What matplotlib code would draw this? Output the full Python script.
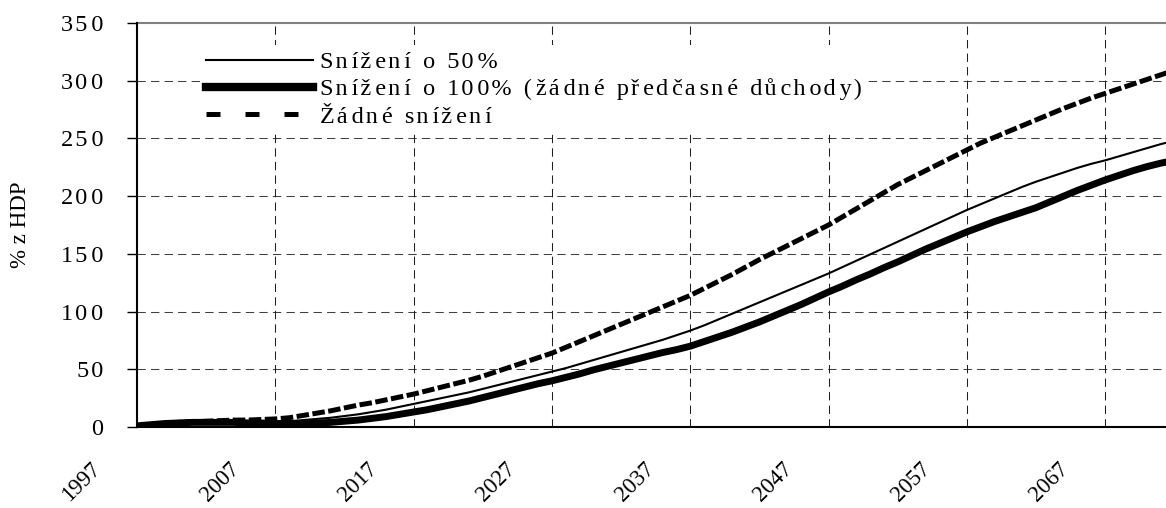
import matplotlib

matplotlib.use("Agg")
import matplotlib.pyplot as plt
from matplotlib.lines import Line2D
from matplotlib.transforms import ScaledTranslation

plt.rcParams["font.family"] = ["Liberation Serif", "DejaVu Serif"]

years = list(range(1997, 2073))

# Žádné snížení (čárkovaně)
no_cut = [
    1, 2, 3, 4, 4.5, 5, 5.5, 6, 6, 6.5,
    7, 8, 10, 12, 14, 16.5, 19, 21, 23.5, 26,
    28.5, 31.5, 34.5, 37.5, 40.5, 44, 48, 52, 56, 60,
    64, 69, 74, 79, 84, 89, 94, 99, 104, 109,
    114, 120, 126, 132, 138.5, 145, 151, 157, 163, 169,
    175, 182, 189, 196, 203, 210, 216, 222, 228, 234,
    240, 246, 251, 256, 261, 266, 271, 276, 280.5, 285,
    289, 293, 297, 301, 305, 309,
]

# Snížení o 50 %
cut_50 = [
    1, 2, 3, 3.5, 4, 4.5, 4.5, 4.5, 4.5, 4.5,
    4.5, 5, 6, 7, 8, 9.5, 11, 13, 15, 17.5,
    20, 22.5, 25, 27.5, 30, 33, 36, 39, 42, 45,
    48, 51, 54.5, 58, 61.5, 65, 68.5, 72, 75.5, 79.5,
    83.5, 88, 93, 98, 103, 108, 113, 118, 123, 128,
    133, 138.5, 144, 149.5, 155, 160.5, 166, 171.5, 177, 182.5,
    188, 193, 198, 203, 208, 212.5, 216.5, 220.5, 224.5, 228,
    231, 234.5, 238, 241.5, 245, 248,
]

# Snížení o 100 % (žádné předčasné důchody)
cut_100 = [
    1, 2, 3, 3.5, 4, 4, 4, 4, 3.5, 3.5,
    3, 3, 3, 3.5, 4, 5, 6, 7.5, 9, 11,
    13, 15, 17.5, 20, 22.5, 25.5, 28.5, 31.5, 34.5, 37.5,
    40, 43, 46, 49.5, 52.5, 55.5, 58.5, 61.5, 64.5, 67,
    70, 74, 78, 82, 86.5, 91, 96, 101, 106, 111.5,
    117, 122, 127.5, 132.5, 138, 143, 148.5, 154, 159, 164,
    169, 173.5, 178, 182, 186, 190, 195, 200, 205, 209.5,
    214, 218, 222, 225.5, 228.5, 231,
]

labels = [
    "Snížení o 50%",
    "Snížení o 100% (žádné předčasné důchody)",
    "Žádné snížení",
]
x_ticks = list(range(1997, 2068, 10))
y_ticks = list(range(0, 351, 50))

FS = 17.5
HAIR = "\u200a"


def spaced(text):
    """Prostrkaný text jako v originále: střídavě jedna a dvě vlasové mezery."""
    out = text[0]
    for i, ch in enumerate(text[1:]):
        out += HAIR * (1 + i % 2) + ch
    return out


fig = plt.figure(figsize=(11.66, 5.08), dpi=100)
ax = fig.add_axes([137 / 1166, 1 - 427 / 508, 1 - 137 / 1166, 404 / 508])

ax.plot(years, cut_50, color="black", linewidth=1.5, zorder=3)
ax.plot(years, cut_100, color="black", linewidth=5.0, zorder=3)
ax.plot(years, no_cut, color="black", linewidth=3.6, dashes=(2.5, 0.7), zorder=3)

ax.set_xlim(1997, 2071.4)
ax.set_ylim(0, 350)

# mřížka
ax.set_xticks(x_ticks)
ax.set_yticks(y_ticks)
for v in y_ticks[1:-1]:
    ax.axhline(v, color="#404040", linewidth=0.75, dashes=(8, 5), zorder=1)
for v in x_ticks[1:]:
    ax.axvline(v, color="#202020", linewidth=0.75, dashes=(8, 5), zorder=1)

ax.set_yticklabels([spaced(str(v)) for v in y_ticks], fontsize=FS)
ax.tick_params(axis="y", direction="out", length=7.2, width=1, pad=17)
ax.set_xticklabels([str(v) for v in x_ticks], fontsize=16.5, rotation=45,
                   ha="right", va="top")
ax.tick_params(axis="x", length=0, pad=22.5)
shift = ScaledTranslation(-32 / 100, 0, fig.dpi_scale_trans)
for lab in ax.get_xticklabels():
    lab.set_transform(lab.get_transform() + shift)

ax.spines["right"].set_visible(False)
ax.spines["top"].set_color("#808080")
ax.spines["top"].set_linewidth(1.5)
ax.spines["left"].set_linewidth(1.5)
ax.spines["bottom"].set_linewidth(1.5)
ax.spines["left"].set_zorder(4)
ax.spines["bottom"].set_zorder(4)

fig.text(21 / 1166, 1 - 225 / 508, "% z HDP", rotation=90, ha="center",
         va="center", fontsize=16.5)

handles = [
    Line2D([], [], color="black", linewidth=1.5),
    Line2D([], [], color="black", linewidth=6.0),
    Line2D([], [], color="black", linewidth=3.6, dashes=(2.8, 5.0)),
]
leg = ax.legend(handles, [spaced(t) for t in labels],
                loc="upper left", bbox_to_anchor=((200 - 137) / 1029, (427 - 45) / 404),
                frameon=True, fancybox=False, fontsize=FS, handlelength=4.4,
                handletextpad=0.3, labelspacing=0.22, borderpad=0.25,
                borderaxespad=0)
leg.get_frame().set_facecolor("white")
leg.get_frame().set_edgecolor("none")
leg.get_frame().set_alpha(1)
leg.set_zorder(2)

fig.savefig("out.png", dpi=100)
